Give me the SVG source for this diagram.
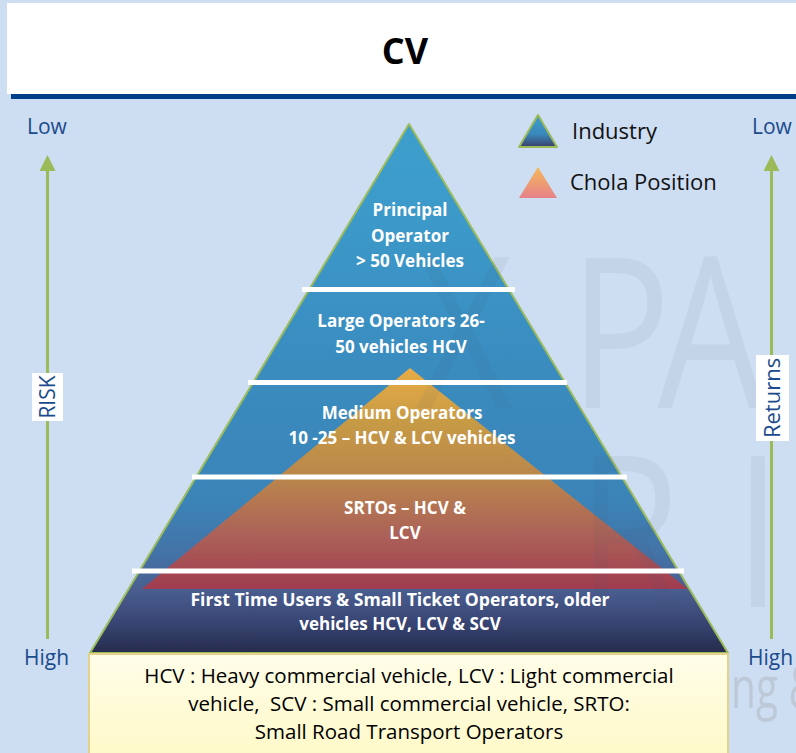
<svg xmlns="http://www.w3.org/2000/svg" width="796" height="753" viewBox="0 0 796 753">
<defs>
<linearGradient id="gInd" gradientUnits="userSpaceOnUse" x1="0" y1="124" x2="0" y2="653">
<stop offset="0" stop-color="#3D9ECC"/>
<stop offset="0.14" stop-color="#3C9BCA"/>
<stop offset="0.43" stop-color="#3A8DC0"/>
<stop offset="0.71" stop-color="#3B84B8"/>
<stop offset="0.815" stop-color="#4472A6"/>
<stop offset="0.88" stop-color="#4A5E90"/>
<stop offset="0.94" stop-color="#394675"/>
<stop offset="1" stop-color="#252B4B"/>
</linearGradient>
<linearGradient id="gChola" gradientUnits="userSpaceOnUse" x1="0" y1="368" x2="0" y2="589">
<stop offset="0" stop-color="#E8AC46"/>
<stop offset="0.25" stop-color="#C69A45"/>
<stop offset="0.5" stop-color="#BA864C"/>
<stop offset="0.75" stop-color="#AC6258"/>
<stop offset="1" stop-color="#A03C50"/>
</linearGradient>
<linearGradient id="gLegInd" x1="0" y1="0" x2="0" y2="1">
<stop offset="0" stop-color="#3D9ECC"/>
<stop offset="0.6" stop-color="#3A88BC"/>
<stop offset="1" stop-color="#3A3F6A"/>
</linearGradient>
<linearGradient id="gLegChola" x1="0" y1="0" x2="0" y2="1">
<stop offset="0" stop-color="#F5B858"/>
<stop offset="1" stop-color="#E6828A"/>
</linearGradient>
<linearGradient id="gBox" x1="0" y1="0" x2="0" y2="1">
<stop offset="0" stop-color="#FFFDE8"/>
<stop offset="1" stop-color="#FFF9C8"/>
</linearGradient>
<marker id="arr" viewBox="0 0 16 16" refX="0" refY="8" markerWidth="16" markerHeight="16" markerUnits="userSpaceOnUse" orient="auto">
<polygon points="0,0 16,8 0,16" fill="#9BBB59"/>
</marker>
<style>
.axis{font-family:"Open Sans","DejaVu Sans",sans-serif;font-size:21px;fill:#1B4B8C}
.tier{font-family:"Open Sans","DejaVu Sans",sans-serif;font-size:17px;font-weight:bold;fill:#FFFFFF;text-anchor:middle}
.leg{font-family:"Open Sans","DejaVu Sans",sans-serif;font-size:22px;fill:#111111}
.box{font-family:"Open Sans","DejaVu Sans",sans-serif;font-size:20.5px;fill:#000000;text-anchor:middle;white-space:pre}
.sep{stroke:#FFFFFF;stroke-width:5}
.wm{font-family:"Open Sans","DejaVu Sans",sans-serif;font-size:210px;fill:#4A5A70;fill-opacity:0.07}
</style>
</defs>
<rect x="0" y="0" width="796" height="753" fill="#CDDDF2"/>
<g id="title">
<rect x="7" y="3" width="789" height="91" fill="#FFFFFF"/>
<rect x="11" y="94" width="785" height="5" fill="#003F87"/>
<text x="405" y="64" text-anchor="middle" style="font-family:'Open Sans','DejaVu Sans',sans-serif;font-size:36px;font-weight:bold;fill:#000">CV</text>
</g>
<g id="pyramid">
<polygon points="409,124 90,653 728,653" fill="url(#gInd)" stroke="#9BBB59" stroke-width="2" stroke-linejoin="round"/>
<polygon id="chola" points="410,368 142,589 688,589" fill="url(#gChola)"/>
</g>
<g id="watermark">
<g transform="scale(0.8,1)">
<text class="wm" x="520" y="408">X</text>
<text class="wm" x="712" y="408">P</text>
<text class="wm" x="822" y="408">A</text>
<text class="wm" x="722" y="607">R</text>
<text class="wm" x="918" y="607">I</text>
</g>
<text x="0" y="0" transform="translate(731,708) scale(0.7,1)" style="font-family:'Open Sans','DejaVu Sans',sans-serif;font-size:58px;fill:#B4BCC6;fill-opacity:0.6">ng &amp;</text>
</g>
<g id="separators">
<line class="sep" x1="302" y1="289.5" x2="515" y2="289.5"/>
<line class="sep" x1="248" y1="382.5" x2="567" y2="382.5"/>
<line class="sep" x1="192" y1="477" x2="627" y2="477"/>
<line class="sep" x1="132" y1="571" x2="684" y2="571"/>
</g>
<g id="tier1">
<text class="tier" x="410" y="216">Principal</text>
<text class="tier" x="410" y="242">Operator</text>
<text class="tier" x="410" y="267">&gt; 50 Vehicles</text>
</g>
<g id="tier2">
<text class="tier" x="401" y="327">Large Operators 26-</text>
<text class="tier" x="401" y="353">50 vehicles HCV</text>
</g>
<g id="tier3">
<text class="tier" x="402" y="419">Medium Operators</text>
<text class="tier" x="402" y="444">10 -25 – HCV &amp; LCV vehicles</text>
</g>
<g id="tier4">
<text class="tier" x="405" y="514">SRTOs – HCV &amp;</text>
<text class="tier" x="405" y="539">LCV</text>
</g>
<g id="tier5">
<text class="tier" x="400" y="606" style="font-size:17.6px">First Time Users &amp; Small Ticket Operators, older</text>
<text class="tier" x="400" y="630">vehicles HCV, LCV &amp; SCV</text>
</g>
<g id="legend">
<polygon points="538,115 519,147 557,147" fill="url(#gLegInd)" stroke="#9BBB59" stroke-width="2" stroke-linejoin="round"/>
<text class="leg" x="572" y="139">Industry</text>
<polygon points="538,167 519,198 557,198" fill="url(#gLegChola)"/>
<text class="leg" x="570" y="190">Chola Position</text>
</g>
<g id="connectors">
<line x1="47.5" y1="639" x2="47.5" y2="171" stroke="#9BBB59" stroke-width="3" marker-end="url(#arr)"/>
<line x1="771.5" y1="639" x2="771.5" y2="171" stroke="#9BBB59" stroke-width="3" marker-end="url(#arr)"/>
</g>
<g id="risk-axis">
<text class="axis" x="27" y="134">Low</text>
<text class="axis" x="24" y="665">High</text>
<rect x="32" y="373" width="31" height="48" fill="#FFFFFF"/>
<text class="axis" transform="translate(55,397) rotate(-90)" x="0" y="0" text-anchor="middle">RISK</text>
</g>
<g id="returns-axis">
<text class="axis" x="752" y="134">Low</text>
<text class="axis" x="748" y="665">High</text>
<rect x="756" y="355" width="33" height="86" fill="#FFFFFF"/>
<text class="axis" transform="translate(780,398) rotate(-90)" x="0" y="0" text-anchor="middle" style="font-size:22px">Returns</text>
</g>
<g id="glossary">
<rect x="89" y="654" width="639" height="104" fill="url(#gBox)" stroke="#E2D28C" stroke-width="2"/>
<text class="box" x="409" y="683">HCV : Heavy commercial vehicle, LCV : Light commercial</text>
<text class="box" x="409" y="711">vehicle,  SCV : Small commercial vehicle, SRTO:</text>
<text class="box" x="409" y="739">Small Road Transport Operators</text>
</g>
</svg>
